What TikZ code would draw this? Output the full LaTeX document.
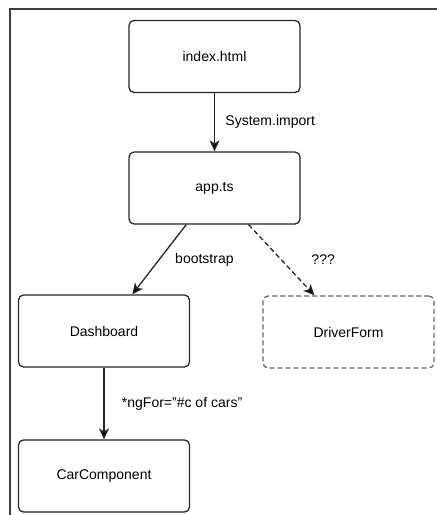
\documentclass[tikz,border=0pt]{standalone}
\usepackage{fontspec}
\setmainfont{Liberation Sans}
\usetikzlibrary{arrows.meta,positioning}
\begin{document}
\begin{tikzpicture}[x=1pt, y=-1pt, font=\fontsize{14}{17}\selectfont]
  \tikzstyle{box}=[rectangle, draw=black!85, line width=1.3pt, rounded corners=5pt, minimum width=171pt, minimum height=72pt, inner sep=0pt, fill=white]
  \tikzstyle{unknown}=[draw=black!60, dash pattern=on 5pt off 3pt]
  \tikzstyle{link}=[draw=black!85, line width=1.3pt, -{Stealth[length=11pt, width=10pt, inset=3pt]}]
  \tikzstyle{maybe}=[link, dash pattern=on 5pt off 3pt]

  \useasboundingbox (0,0) rectangle (437,515);
  \draw[black!75, line width=1.2pt] (10,515) -- (10,9) -- (437,9);

  \node[box] (index) at (214.5, 56.5) {index.html};
  \node[box] (app)   at (214.5, 188)  {app.ts};

  \node[box] (dash)          at (104, 331)   {Dashboard};
  \node[box, unknown] (form) at (348.5, 332) {DriverForm};

  \node[box] (car) at (104, 476) {CarComponent};

  \path[link]  (index) edge node[right=7pt]  {System.import} (app);
  \path[link]  (app)   edge node[right=12pt] {bootstrap} (dash);
  \path[maybe] (app)   edge node[right=26pt] {???} (form);
  \path[link]  (dash)  edge node[right=14pt] {*ngFor="\#c of cars"} (car);
\end{tikzpicture}
\end{document}
